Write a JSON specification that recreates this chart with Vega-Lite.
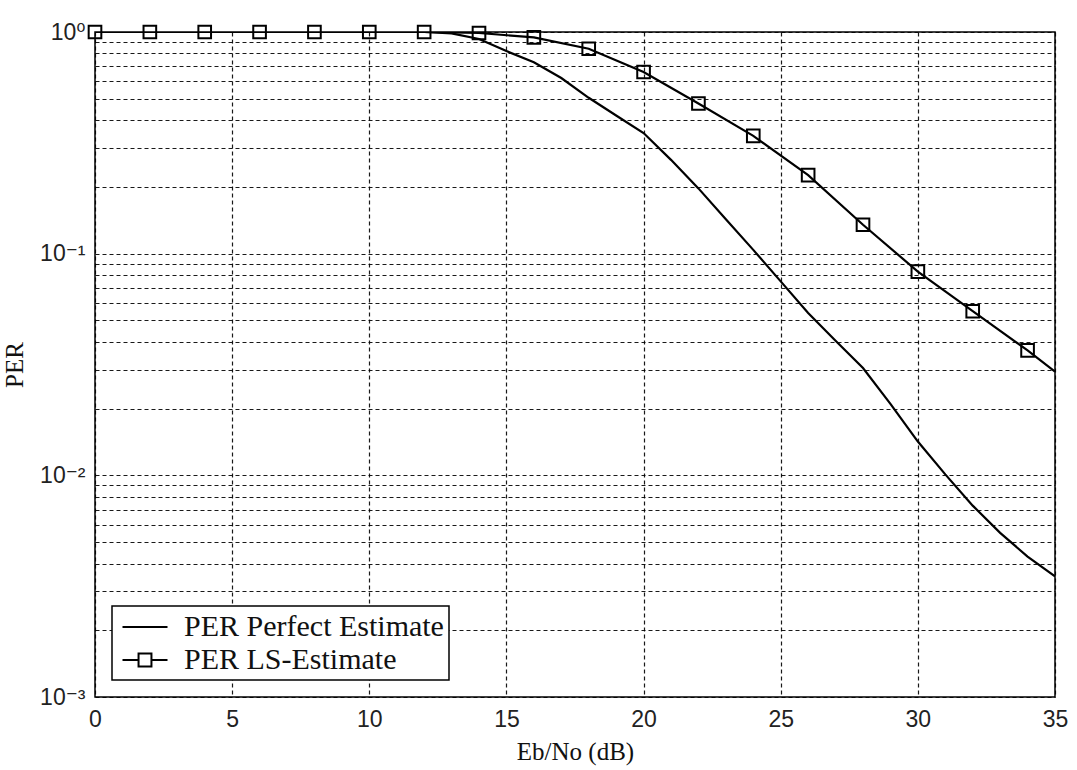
{
  "$schema": "https://vega.github.io/schema/vega-lite/v6.json",
  "width": 960,
  "height": 665,
  "autosize": {"type": "none"},
  "padding": {"left": 95, "top": 32, "right": 22, "bottom": 73},
  "background": "white",
  "config": {
    "view": {"stroke": "black", "strokeWidth": 1.5},
    "axis": {
      "grid": true,
      "gridColor": "black",
      "gridDash": [4, 3],
      "gridWidth": 1.2,
      "gridOpacity": 0.9,
      "domain": false,
      "ticks": false,
      "labelFont": "Liberation Sans, DejaVu Sans",
      "labelFontSize": 23,
      "labelColor": "#222",
      "titleFont": "Liberation Serif",
      "titleFontSize": 25,
      "titleFontWeight": "normal",
      "titleColor": "#111"
    }
  },
  "data": {
    "values": [
      {"snr": 0, "per": 1.0, "series": "PER Perfect Estimate"},
      {"snr": 2, "per": 1.0, "series": "PER Perfect Estimate"},
      {"snr": 4, "per": 1.0, "series": "PER Perfect Estimate"},
      {"snr": 6, "per": 1.0, "series": "PER Perfect Estimate"},
      {"snr": 8, "per": 1.0, "series": "PER Perfect Estimate"},
      {"snr": 10, "per": 1.0, "series": "PER Perfect Estimate"},
      {"snr": 12, "per": 1.0, "series": "PER Perfect Estimate"},
      {"snr": 13, "per": 0.985, "series": "PER Perfect Estimate"},
      {"snr": 14, "per": 0.93, "series": "PER Perfect Estimate"},
      {"snr": 15, "per": 0.82, "series": "PER Perfect Estimate"},
      {"snr": 16, "per": 0.73, "series": "PER Perfect Estimate"},
      {"snr": 17, "per": 0.62, "series": "PER Perfect Estimate"},
      {"snr": 18, "per": 0.505, "series": "PER Perfect Estimate"},
      {"snr": 19, "per": 0.42, "series": "PER Perfect Estimate"},
      {"snr": 20, "per": 0.35, "series": "PER Perfect Estimate"},
      {"snr": 21, "per": 0.265, "series": "PER Perfect Estimate"},
      {"snr": 22, "per": 0.197, "series": "PER Perfect Estimate"},
      {"snr": 23, "per": 0.143, "series": "PER Perfect Estimate"},
      {"snr": 24, "per": 0.104, "series": "PER Perfect Estimate"},
      {"snr": 25, "per": 0.075, "series": "PER Perfect Estimate"},
      {"snr": 26, "per": 0.054, "series": "PER Perfect Estimate"},
      {"snr": 27, "per": 0.0405, "series": "PER Perfect Estimate"},
      {"snr": 28, "per": 0.0305, "series": "PER Perfect Estimate"},
      {"snr": 29, "per": 0.021, "series": "PER Perfect Estimate"},
      {"snr": 30, "per": 0.0142, "series": "PER Perfect Estimate"},
      {"snr": 31, "per": 0.0101, "series": "PER Perfect Estimate"},
      {"snr": 32, "per": 0.0073, "series": "PER Perfect Estimate"},
      {"snr": 33, "per": 0.0055, "series": "PER Perfect Estimate"},
      {"snr": 34, "per": 0.0043, "series": "PER Perfect Estimate"},
      {"snr": 35, "per": 0.0035, "series": "PER Perfect Estimate"},
      {"snr": 0, "per": 1.0, "series": "PER LS-Estimate"},
      {"snr": 2, "per": 1.0, "series": "PER LS-Estimate"},
      {"snr": 4, "per": 1.0, "series": "PER LS-Estimate"},
      {"snr": 6, "per": 1.0, "series": "PER LS-Estimate"},
      {"snr": 8, "per": 1.0, "series": "PER LS-Estimate"},
      {"snr": 10, "per": 1.0, "series": "PER LS-Estimate"},
      {"snr": 12, "per": 1.0, "series": "PER LS-Estimate"},
      {"snr": 14, "per": 0.99, "series": "PER LS-Estimate"},
      {"snr": 16, "per": 0.945, "series": "PER LS-Estimate"},
      {"snr": 18, "per": 0.84, "series": "PER LS-Estimate"},
      {"snr": 20, "per": 0.66, "series": "PER LS-Estimate"},
      {"snr": 22, "per": 0.476, "series": "PER LS-Estimate"},
      {"snr": 24, "per": 0.34, "series": "PER LS-Estimate"},
      {"snr": 26, "per": 0.226, "series": "PER LS-Estimate"},
      {"snr": 28, "per": 0.135, "series": "PER LS-Estimate"},
      {"snr": 30, "per": 0.083, "series": "PER LS-Estimate"},
      {"snr": 32, "per": 0.055, "series": "PER LS-Estimate"},
      {"snr": 34, "per": 0.0366, "series": "PER LS-Estimate"},
      {"snr": 35, "per": 0.0294, "series": "PER LS-Estimate"}
    ]
  },
  "encoding": {
    "x": {
      "field": "snr",
      "type": "quantitative",
      "title": "Eb/No (dB)",
      "scale": {"domain": [0, 35], "nice": false, "zero": false},
      "axis": {"values": [0, 5, 10, 15, 20, 25, 30, 35], "labelFlush": false, "labelPadding": 11, "titlePadding": 8}
    },
    "y": {
      "field": "per",
      "type": "quantitative",
      "title": "PER",
      "scale": {"type": "log", "domain": [0.001, 1], "nice": false},
      "axis": {
        "values": [0.001, 0.002, 0.003, 0.004, 0.005, 0.006, 0.007, 0.008, 0.009, 0.01, 0.02, 0.03, 0.04, 0.05, 0.06, 0.07, 0.08, 0.09, 0.1, 0.2, 0.3, 0.4, 0.5, 0.6, 0.7, 0.8, 0.9, 1],
        "labelExpr": "datum.value == 1 ? '10⁰' : datum.value == 0.1 ? '10⁻¹' : datum.value == 0.01 ? '10⁻²' : datum.value == 0.001 ? '10⁻³' : ''",
        "labelOverlap": false,
        "labelPadding": 10,
        "titlePadding": 12
      }
    }
  },
  "layer": [
    {
      "mark": {"type": "line", "strokeWidth": 2.2, "clip": true},
      "encoding": {
        "color": {
          "field": "series",
          "type": "nominal",
          "scale": {"domain": ["PER Perfect Estimate", "PER LS-Estimate"], "range": ["black", "black"]},
          "legend": {
            "title": null,
            "orient": "bottom-left",
            "offset": 17,
            "strokeColor": "black",
            "fillColor": "white",
            "padding": 5,
            "rowPadding": 2,
            "symbolSize": 900,
            "symbolOffset": 12,
            "symbolStrokeWidth": 2,
            "labelFont": "Liberation Serif",
            "labelFontSize": 30,
            "labelColor": "#111",
            "labelOffset": 23,
            "labelLimit": 400,
            "encode": {
              "legend": {"update": {"strokeWidth": {"value": 1.5}}},
              "symbols": {
                "update": {
                  "shape": {"signal": "datum.value == 'PER LS-Estimate' ? 'M-1.5,0H-0.43M0.43,0H1.5M-0.43,-0.43H0.43V0.43H-0.43Z' : 'M-1.5,0H1.5'"},
                  "fill": {"value": "transparent"},
                  "stroke": {"value": "black"},
                  "strokeWidth": {"value": 2}
                }
              }
            }
          }
        }
      }
    },
    {
      "transform": [{"filter": "datum.series == 'PER LS-Estimate' && datum.snr < 35"}],
      "mark": {"type": "point", "shape": "square", "filled": false, "size": 160, "stroke": "black", "strokeWidth": 2, "opacity": 1, "clip": false}
    }
  ]
}
